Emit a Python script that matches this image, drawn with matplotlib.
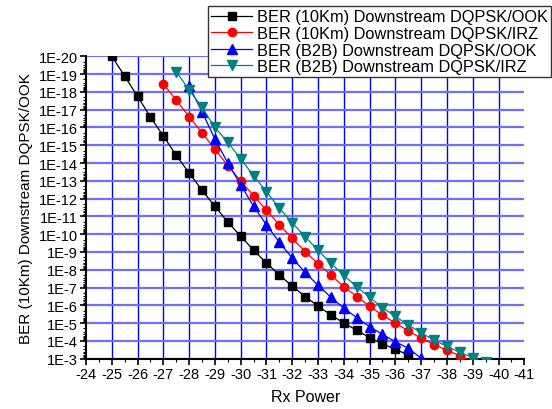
import matplotlib
matplotlib.use("Agg")
import matplotlib.pyplot as plt
from matplotlib.ticker import FixedLocator, FuncFormatter, LogLocator, NullFormatter, MultipleLocator
import numpy as np

plt.rcParams['font.family'] = ['Liberation Sans', 'DejaVu Sans']

# Rx power (dBm) and BER values
x_k10_ook = [-25, -25.5, -26, -26.5, -27, -27.5, -28, -28.5, -29, -29.5, -30, -30.5,
             -31, -31.5, -32, -32.5, -33, -33.5, -34, -34.5, -35, -35.5, -36, -36.5, -37]
ber_k10_ook = [1e-20, 1.3e-19, 1.8e-18, 2.6e-17, 3.0e-16, 3.7e-15, 3.6e-14, 3.4e-13, 2.7e-12,
               2.1e-11, 1.3e-10, 7.9e-10, 4.2e-9, 1.95e-8, 8.5e-8, 3.2e-7, 1.1e-6, 3.5e-6,
               9.8e-6, 2.5e-5, 6.6e-5, 1.45e-4, 2.95e-4, 6.2e-4, 2.0e-3]

x_k10_irz = [-27, -27.5, -28, -28.5, -29, -29.5, -30, -30.5, -31, -31.5, -32, -32.5, -33,
             -33.5, -34, -34.5, -35, -35.5, -36, -36.5, -37, -37.5, -38, -38.5, -39]
ber_k10_irz = [3.6e-19, 2.9e-18, 2.5e-17, 2.0e-16, 1.7e-15, 1.4e-14, 1.0e-13, 6.9e-13, 4.5e-12,
               3.0e-11, 1.7e-10, 9.5e-10, 4.6e-9, 2.0e-8, 8.9e-8, 3.2e-7, 1.1e-6, 3.6e-6,
               9.8e-6, 2.75e-5, 7.1e-5, 1.6e-4, 3.4e-4, 6.8e-4, 1.4e-3]

x_b2b_ook = [-28, -28.5, -29, -29.5, -30, -30.5, -31, -31.5, -32, -32.5, -33, -33.5, -34,
             -34.5, -35, -35.5, -36, -36.5, -37]
ber_b2b_ook = [4.7e-19, 1.3e-17, 4.5e-16, 1.0e-14, 1.7e-13, 2.7e-12, 3.0e-11, 2.9e-10, 2.2e-9,
               1.4e-8, 7.6e-8, 3.5e-7, 1.45e-6, 4.9e-6, 1.6e-5, 4.3e-5, 1.1e-4, 2.6e-4, 9.5e-4]

x_b2b_irz = [-27.5, -28, -28.5, -29, -29.5, -30, -30.5, -31, -31.5, -32, -32.5, -33, -33.5,
             -34, -34.5, -35, -35.5, -36, -36.5, -37, -37.5, -38, -38.5, -39, -39.5]
ber_b2b_irz = [7.4e-20, 7.6e-19, 7.4e-18, 9.8e-17, 6.8e-16, 5.9e-15, 5.1e-14, 4.1e-13, 3.4e-12,
               2.3e-11, 1.4e-10, 8.1e-10, 4.3e-9, 2.1e-8, 8.9e-8, 3.6e-7, 1.35e-6, 4.2e-6,
               1.26e-5, 3.5e-5, 9.1e-5, 2.0e-4, 4.4e-4, 8.7e-4, 1.5e-3]

labels = ["BER (10Km) Downstream DQPSK/OOK", "BER (10Km) Downstream DQPSK/IRZ",
          "BER (B2B) Downstream DQPSK/OOK", "BER (B2B) Downstream DQPSK/IRZ"]
x_ticks = list(range(-24, -42, -1))
y_exps = list(range(-20, -2))

fig = plt.figure(figsize=(5.52, 4.10), dpi=100)
ax = fig.add_axes([86 / 552, 1 - 359.7 / 410, (524.3 - 86) / 552, (359.7 - 57.3) / 410])

ax.plot(x_k10_ook, ber_k10_ook, color='black', marker='s', ms=5.2, lw=0.9, label=labels[0], zorder=3)
ax.plot(x_k10_irz, ber_k10_irz, color='#ff0000', marker='o', ms=6, lw=0.9, label=labels[1], zorder=3)
ax.plot(x_b2b_ook, ber_b2b_ook, color='#0000ff', marker='^', ms=6.5, lw=0.9, label=labels[2], zorder=3)
ax.plot(x_b2b_irz, ber_b2b_irz, color='#008080', marker='v', ms=6.5, lw=0.9, label=labels[3], zorder=3)

ax.set_yscale('log')
ax.set_ylim(1e-3, 1e-20)
ax.set_xlim(-24, -41)

ax.xaxis.set_major_locator(FixedLocator(x_ticks))
ax.xaxis.set_minor_locator(MultipleLocator(0.5))
ax.yaxis.set_major_locator(FixedLocator([10.0 ** e for e in y_exps]))
ax.yaxis.set_minor_locator(LogLocator(base=10, subs=np.arange(2, 10), numticks=100))
ax.yaxis.set_minor_formatter(NullFormatter())
ax.yaxis.set_major_formatter(FuncFormatter(lambda v, p: "1E%d" % int(round(np.log10(v)))))
ax.xaxis.set_major_formatter(FuncFormatter(lambda v, p: "%d" % int(round(v))))

ax.tick_params(axis='both', which='major', direction='out', length=4, width=1.2, labelsize=10.5, pad=2)
ax.tick_params(axis='both', which='minor', direction='out', length=2.5, width=0.8)

ax.set_axisbelow(True)
ax.grid(True, axis='x', which='major', color='#0000ff', lw=1.0)
ax.grid(True, axis='y', which='major', color='#6f6fff', lw=1.6)
xg = ax.get_xgridlines()
xg[0].set_visible(False)
xg[-1].set_visible(False)

for s in ['top', 'right']:
    ax.spines[s].set_visible(False)
for s in ['left', 'bottom']:
    ax.spines[s].set_linewidth(1.5)

ax.set_xlabel("Rx Power", fontsize=11.5, labelpad=6)
ax.set_ylabel("BER (10Km) Downstream DQPSK/OOK", fontsize=11, labelpad=4)

leg = fig.legend(loc='upper left', bbox_to_anchor=(208 / 552, 1 - 7 / 410),
                 bbox_transform=fig.transFigure, fontsize=11.8, frameon=True, fancybox=False,
                 edgecolor='#333333', framealpha=1, borderpad=0.2, labelspacing=0.1,
                 handlelength=2.5, handletextpad=0.3, borderaxespad=0)
leg.get_frame().set_linewidth(1.0)

fig.savefig("out.png", dpi=100)
